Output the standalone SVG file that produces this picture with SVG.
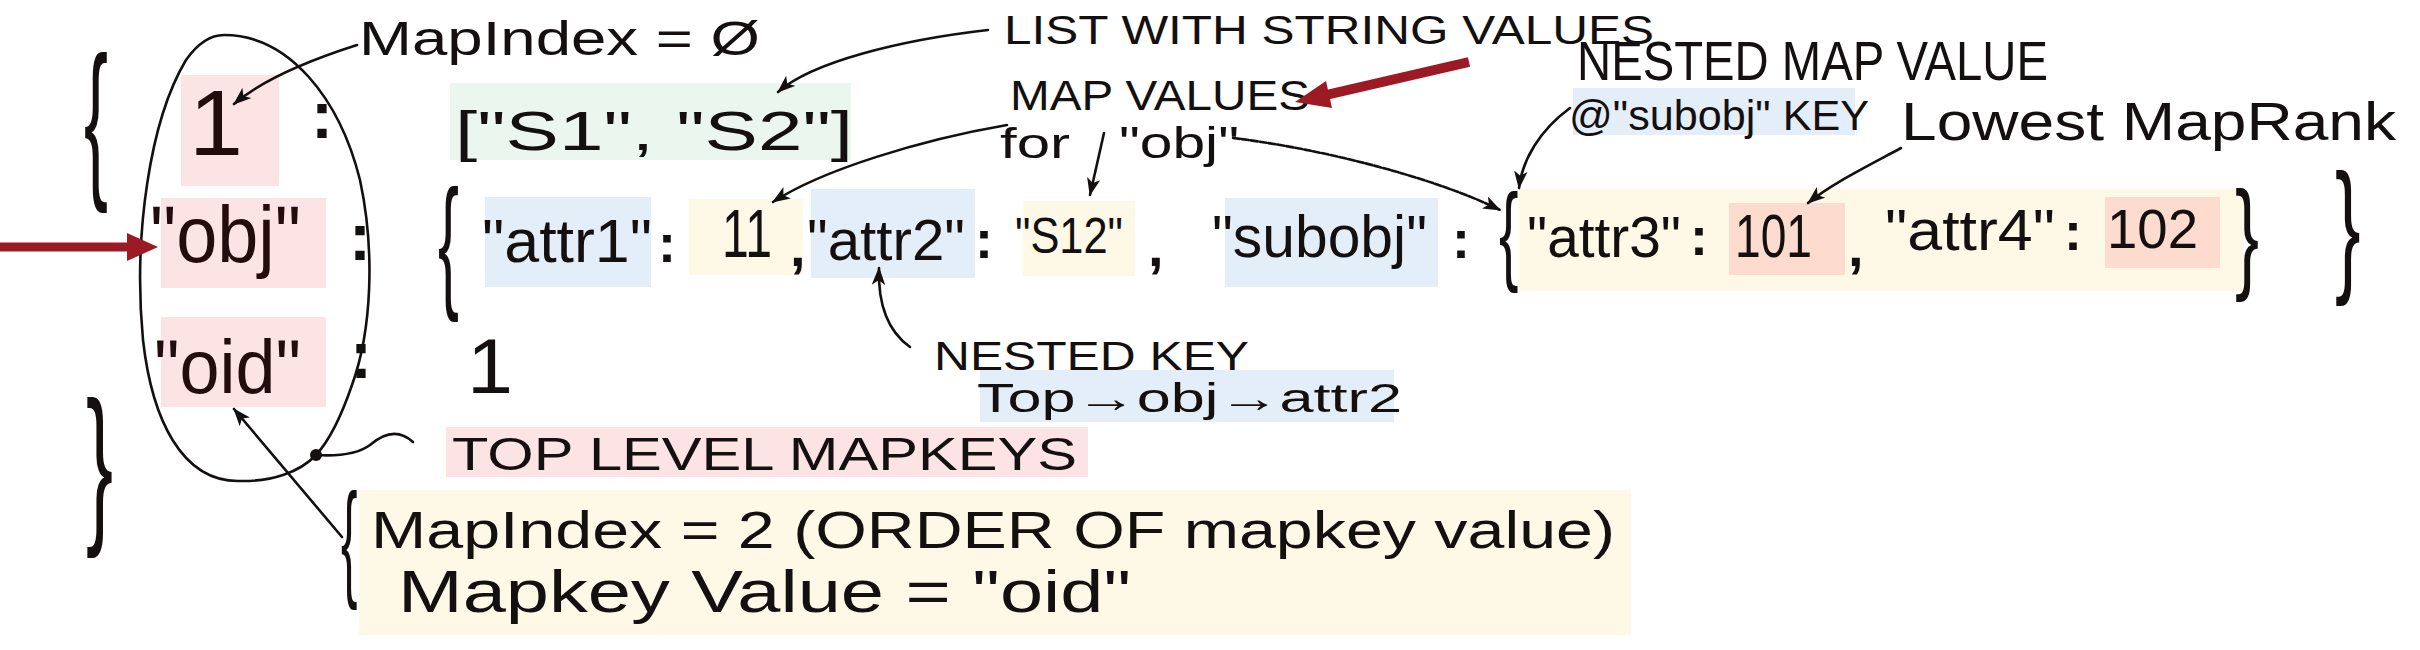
<svg xmlns="http://www.w3.org/2000/svg" width="2420" height="650" viewBox="0 0 2420 650">
<style>
text{font-family:"Liberation Sans",Arial,sans-serif;fill:#141010}
.key{fill:#230c0c}
.col{font-weight:bold}
.pink{fill:#fde4e4}
.green{fill:#ebf7ee}
.blue{fill:#e4eef9}
.yellow{fill:#fef8e7}
.orange{fill:#fddccf}
.ln{fill:none;stroke:#141010;stroke-width:2.6;stroke-linecap:round}
.red{fill:#9c1a24}
</style>
<defs>
<marker id="ah" viewBox="0 0 16 12" refX="15" refY="6" markerWidth="18" markerHeight="14" markerUnits="userSpaceOnUse" orient="auto">
<path d="M0,0 L16,6 L0,12 L4,6 Z" fill="#141010"/>
</marker>
</defs>
<rect width="2420" height="650" fill="#ffffff"/>

<g id="brace-top-left"><text transform="translate(84,176.6) scale(1.6,3.85)" font-size="45">{</text></g>
<g id="brace-bottom-left"><text transform="translate(86,521.6) scale(1.8,3.85)" font-size="45">}</text></g>

<g id="key-1">
<rect class="pink" x="181" y="75" width="98" height="111"/>
<text class="key" x="189" y="155" font-size="93" textLength="54" lengthAdjust="spacingAndGlyphs">1</text>
<text class="col" x="311" y="138" font-size="66">:</text>
</g>
<g id="key-obj">
<rect class="pink" x="161" y="198" width="165" height="90"/>
<text class="key" x="150" y="262" font-size="80" textLength="151" lengthAdjust="spacingAndGlyphs">"obj"</text>
<text class="col" x="349" y="260" font-size="66">:</text>
</g>
<g id="key-oid">
<rect class="pink" x="161" y="317" width="165" height="90"/>
<text class="key" x="154" y="393" font-size="76" textLength="147" lengthAdjust="spacingAndGlyphs">"oid"</text>
<text class="col" x="350" y="378" font-size="66">:</text>
</g>

<g id="ellipse-keys">
<path class="ln" d="M224,35 C290,35 340,100 360,180 C375,250 372,330 352,385 C340,420 328,442 316,455 C300,472 272,482 238,481 C182,481 152,420 143,340 C133,235 150,120 186,60 C198,43 210,35 224,35 Z"/>
</g>

<g id="value-list">
<rect class="green" x="450" y="83" width="401" height="77"/>
<text x="455" y="150" font-size="56" textLength="398" lengthAdjust="spacingAndGlyphs">["S1", "S2"]</text>
</g>

<g id="value-obj">
<text transform="translate(438,292) scale(1.4,3.26)" font-size="45">{</text>
<rect class="blue" x="485" y="197" width="166" height="90"/>
<text x="482" y="262" font-size="62" textLength="170" lengthAdjust="spacingAndGlyphs">"attr1"</text>
<text class="col" x="658" y="262" font-size="54">:</text>
<rect class="yellow" x="689" y="199" width="114" height="76"/>
<text x="722" y="257" font-size="68" textLength="50" lengthAdjust="spacingAndGlyphs">11</text>
<text class="col" x="790" y="266" font-size="56">,</text>
<rect class="blue" x="811" y="189" width="164" height="89"/>
<text x="807" y="260" font-size="58" textLength="158" lengthAdjust="spacingAndGlyphs">"attr2"</text>
<text class="col" x="975" y="258" font-size="54">:</text>
<rect class="yellow" x="1023" y="201" width="112" height="75"/>
<text x="1015" y="253" font-size="50" textLength="108" lengthAdjust="spacingAndGlyphs">"S12"</text>
<text class="col" x="1148" y="266" font-size="56">,</text>
<rect class="blue" x="1225" y="198" width="213" height="89"/>
<text x="1212" y="257" font-size="60" textLength="215" lengthAdjust="spacingAndGlyphs">"subobj"</text>
<text class="col" x="1452" y="258" font-size="54">:</text>
<text transform="translate(2335,276) scale(1.7,3.24)" font-size="45">}</text>
</g>

<g id="value-subobj">
<rect class="yellow" x="1519" y="189" width="725" height="102"/>
<text transform="translate(1499,270) scale(1.3,2.43)" font-size="45">{</text>
<text x="1527" y="257" font-size="58" textLength="154" lengthAdjust="spacingAndGlyphs">"attr3"</text>
<text class="col" x="1690" y="255" font-size="54">:</text>
<rect class="orange" x="1729" y="203" width="116" height="72"/>
<text x="1735" y="257" font-size="61" textLength="77" lengthAdjust="spacingAndGlyphs">101</text>
<text class="col" x="1848" y="266" font-size="56">,</text>
<text x="1885" y="250" font-size="58" textLength="170" lengthAdjust="spacingAndGlyphs">"attr4"</text>
<text class="col" x="2064" y="250" font-size="54">:</text>
<rect class="orange" x="2105" y="197" width="115" height="71"/>
<text x="2107" y="248" font-size="55" textLength="91" lengthAdjust="spacingAndGlyphs">102</text>
<text transform="translate(2235,277) scale(1.6,2.74)" font-size="45">}</text>
</g>

<g id="value-oid">
<text x="467" y="393" font-size="78" textLength="46" lengthAdjust="spacingAndGlyphs">1</text>
</g>

<g id="label-mapindex0"><text x="359" y="55" font-size="49" textLength="401" lengthAdjust="spacingAndGlyphs">MapIndex = Ø</text></g>
<g id="label-list"><text x="1004" y="44" font-size="40" textLength="650" lengthAdjust="spacingAndGlyphs">LIST WITH STRING VALUES</text></g>
<g id="label-mapvalues">
<text x="1010" y="110" font-size="42" textLength="300" lengthAdjust="spacingAndGlyphs">MAP VALUES</text>
<text x="1000" y="158" font-size="42" textLength="70" lengthAdjust="spacingAndGlyphs">for</text>
<text x="1119" y="158" font-size="44" textLength="120" lengthAdjust="spacingAndGlyphs">"obj"</text>
</g>
<g id="label-nestedmap">
<text x="1577" y="80" font-size="56" textLength="471" lengthAdjust="spacingAndGlyphs">NESTED MAP VALUE</text>
<rect class="blue" x="1573" y="88" width="282" height="47"/>
<text x="1569" y="130" font-size="42" textLength="300" lengthAdjust="spacingAndGlyphs">@"subobj" KEY</text>
</g>
<g id="label-lowest"><text x="1901" y="140" font-size="53" textLength="495" lengthAdjust="spacingAndGlyphs">Lowest MapRank</text></g>
<g id="label-nestedkey">
<rect class="blue" x="980" y="370" width="414" height="52"/>
<text x="934" y="370" font-size="40" textLength="315" lengthAdjust="spacingAndGlyphs">NESTED KEY</text>
<text x="977" y="412" font-size="40" textLength="425" lengthAdjust="spacingAndGlyphs">Top→obj→attr2</text>
</g>
<g id="label-toplevel">
<rect class="pink" x="446" y="427" width="642" height="50"/>
<text x="452" y="470" font-size="46" textLength="625" lengthAdjust="spacingAndGlyphs">TOP LEVEL MAPKEYS</text>
</g>
<g id="label-mapindex2">
<rect class="yellow" x="359" y="490" width="1272" height="145"/>
<text transform="translate(341,583) scale(1.1,2.84)" font-size="45">{</text>
<text x="371" y="548" font-size="52" textLength="1244" lengthAdjust="spacingAndGlyphs">MapIndex = 2 (ORDER OF mapkey value)</text>
<text x="398" y="612" font-size="60" textLength="733" lengthAdjust="spacingAndGlyphs">Mapkey Value = "oid"</text>
</g>

<g id="connectors">
<path class="ln" d="M357,45 C310,60 262,80 234,104" marker-end="url(#ah)"/>
<path class="ln" d="M988,30 C900,40 812,62 778,92" marker-end="url(#ah)"/>
<path class="ln" d="M1007,125 C920,140 822,170 773,202" marker-end="url(#ah)"/>
<path class="ln" d="M1104,133 L1090,195" marker-end="url(#ah)"/>
<path class="ln" d="M1233,138 C1330,150 1440,180 1500,210" stroke-width="1.8" stroke-dasharray="7 2" marker-end="url(#ah)"/>
<path class="ln" d="M1570,108 C1540,130 1522,160 1519,188" marker-end="url(#ah)"/>
<path class="ln" d="M1901,148 C1860,170 1830,185 1808,203" marker-end="url(#ah)"/>
<path class="ln" d="M910,347 C886,330 878,300 879,268" marker-end="url(#ah)"/>
<path class="ln" d="M413,442 C400,430 385,432 370,445 C355,456 332,456 316,455"/>
<circle cx="316" cy="455" r="6" fill="#141010"/>
<path class="ln" d="M342,537 L234,409" marker-end="url(#ah)"/>
<line x1="0" y1="247" x2="130" y2="247" stroke="#9c1a24" stroke-width="9"/>
<polygon class="red" points="127,233 158,247 127,261"/>
<line x1="1469" y1="62" x2="1326" y2="95" stroke="#9c1a24" stroke-width="10"/>
<polygon class="red" points="1332,108 1295,102 1326,81"/>
</g>
</svg>
